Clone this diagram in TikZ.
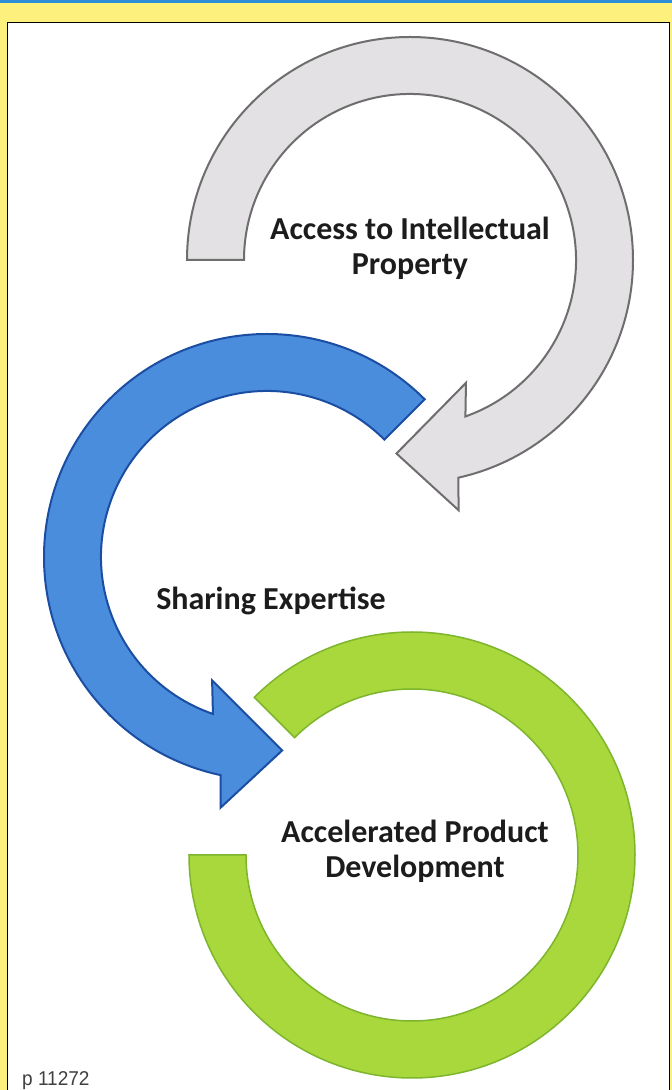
\documentclass[tikz,border=0pt]{standalone}
\usepackage{fontspec}
\setmainfont{Carlito}
\newfontfamily\labelfont{Liberation Sans}
\usetikzlibrary{calc}
\definecolor{bgyellow}{HTML}{FDF07C}
\definecolor{topblue}{HTML}{2E8FD6}
\definecolor{grayfill}{HTML}{E3E1E3}
\definecolor{graystroke}{HTML}{6E6E6E}
\definecolor{bluefill}{HTML}{4A8DDC}
\definecolor{bluestroke}{HTML}{1B4EA3}
\definecolor{greenfill}{HTML}{A8D83C}
\definecolor{greenstroke}{HTML}{7DB52D}
\definecolor{textdark}{HTML}{1C1C1C}
\tikzset{
  grayarrow/.style={fill=grayfill, draw=graystroke, line width=2pt, line join=miter},
  bluearrow/.style={fill=bluefill, draw=bluestroke, line width=2pt, line join=miter},
  greenring/.style={fill=greenfill, draw=greenstroke, line width=1.5pt, line join=miter},
  cyclelabel/.style={font=\bfseries\fontsize{32}{35}\selectfont, text=textdark, align=center, inner sep=0pt},
}
\begin{document}
\begin{tikzpicture}[x=1pt,y=1pt]
\useasboundingbox (0,0) rectangle (672,1090);
% background
\fill[bgyellow] (0,0) rectangle (672,1090);
\fill[topblue] (0,1087) rectangle (672,1090);
\draw[fill=white, line width=0.8pt] (7,-2) rectangle (669,1068);
% centres
\coordinate (G) at (410,830);
\coordinate (B) at (267,533);
\coordinate (N) at (412,235);
% green ring (from 135 clockwise to 180)
\draw[greenring] ($(N)+(135:223)$) arc[start angle=135, end angle=-180, radius=223]
  -- ($(N)+(180:166)$) arc[start angle=-180, end angle=135, radius=166] -- cycle;
% blue arrow (from 45 counter-clockwise)
\draw[bluearrow] ($(B)+(45:223)$) arc[start angle=45, end angle=258, radius=223]
  -- ($(B)+(259.5:255)$) -- ($(B)+(274.5:194)$) -- ($(B)+(246:135)$)
  -- ($(B)+(251:166)$) arc[start angle=251, end angle=45, radius=166] -- cycle;
% gray arrow (from 180 clockwise)
\draw[grayarrow] ($(G)+(180:223)$) arc[start angle=180, end angle=-77.5, radius=223]
  -- ($(G)+(-79:255)$) -- ($(G)+(-94:194)$) -- ($(G)+(-65.5:135)$)
  -- ($(G)+(-70.5:166)$) arc[start angle=-70.5, end angle=180, radius=166] -- cycle;
% labels
\node[cyclelabel] (ip) at (410,841.5) {Access to Intellectual\\Property};
\node[cyclelabel, anchor=base] (se) at (271,480) {Sharing Expertise};
\node[cyclelabel] (apd) at (415,238.5) {Accelerated Product\\Development};
\node[anchor=base west, inner sep=0pt, text=black!75, font=\labelfont\fontsize{20}{20}\selectfont, xscale=0.95] (code) at (22,5) {p 11272};
\end{tikzpicture}
\end{document}
